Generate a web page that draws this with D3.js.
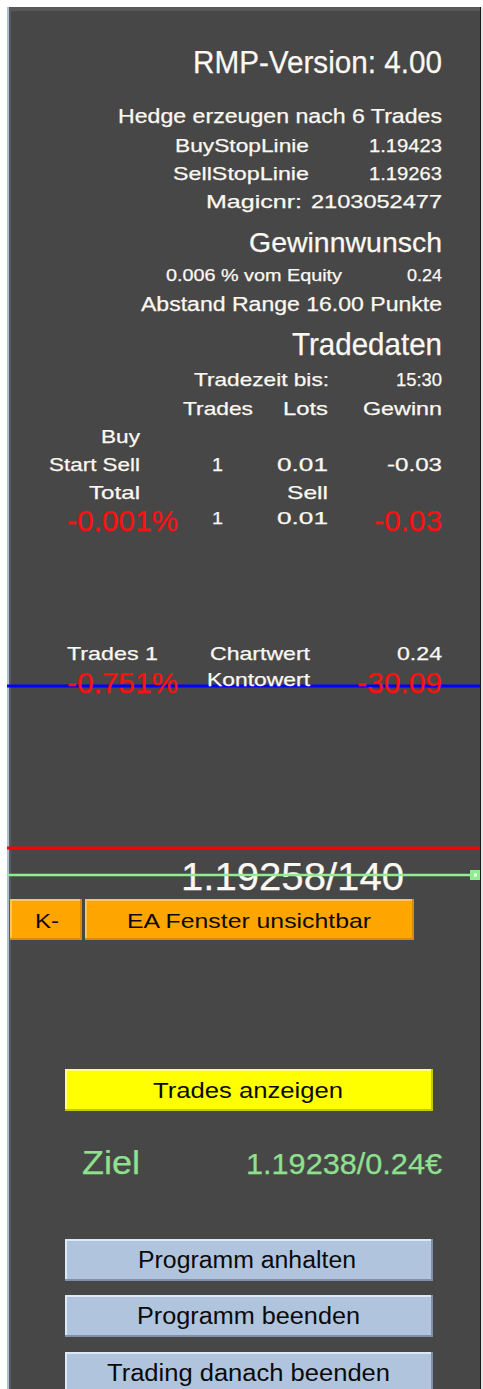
<!DOCTYPE html>
<html><head><meta charset="utf-8">
<script src="https://cdn.jsdelivr.net/npm/d3@7"></script>
<style>html,body{margin:0;padding:0;background:#fff;overflow:hidden}svg{display:block}</style>
</head><body>
<script>
// ---------- data ----------
const versionText = "RMP-Version: 4.00";
const hedgeText = "Hedge erzeugen nach 6 Trades";
const stopLineLabels = ["BuyStopLinie", "SellStopLinie"];
const stopLineValues = ["1.19423", "1.19263"];
const magicLabel = "Magicnr:";
const magicNumber = "2103052477";
const profitHeader = "Gewinnwunsch";
const profitLabel = "0.006 % vom Equity";
const profitValue = "0.24";
const rangeText = "Abstand Range 16.00 Punkte";
const tradeHeader = "Tradedaten";
const tradeTimeLabel = "Tradezeit bis:";
const tradeTimeValue = "15:30";
const tradeColumns = ["Trades", "Lots", "Gewinn"];
const tradeRowLabels = ["Buy", "Start Sell", "Total"];
const startSellValues = ["1", "0.01", "-0.03"];
const totalSubLabel = "Sell";
const totalPercent = "-0.001%";
const totalValues = ["1", "0.01"];
const totalProfit = "-0.03";
const summaryLabels = ["Trades 1", "Chartwert", "Kontowert"];
const chartValue = "0.24";
const accountPercent = "-0.751%";
const accountValue = "-30.09";
const priceLineNames = ["blue", "red", "green"];
const priceLinePrices = [1.19293, 1.19263, 1.19258];
const currentPriceText = "1.19258/140";
const orangeButtons = ["K-", "EA Fenster unsichtbar"];
const yellowButton = "Trades anzeigen";
const targetLabel = "Ziel";
const targetValue = "1.19238/0.24€";
const blueButtons = ["Programm anhalten", "Programm beenden", "Trading danach beenden"];

// ---------- drawing ----------
const W = 483, H = 1389;
const FONT = "'Liberation Sans', Arial, sans-serif";
const svg = d3.select("body").append("svg").attr("width", W).attr("height", H);

// frame
svg.append("rect").attr("x", 0).attr("y", 0).attr("width", W).attr("height", H).attr("fill", "#ffffff");
svg.append("rect").attr("x", 7).attr("y", 7).attr("width", 474).attr("height", H - 7).attr("fill", "#595959");
svg.append("rect").attr("x", 11).attr("y", 11).attr("width", 469).attr("height", H - 11).attr("fill", "#474747");
svg.append("rect").attr("x", 7).attr("y", 7).attr("width", 2).attr("height", H - 7).attr("fill", "#a9bfdc");
svg.append("rect").attr("x", 480).attr("y", 7).attr("width", 1).attr("height", H - 7).attr("fill", "#1a1a1a");
svg.append("rect").attr("x", 481).attr("y", 7).attr("width", 2).attr("height", H - 7).attr("fill", "#e6e6e6");

const gLines = svg.append("g");
const gText = svg.append("g").attr("font-family", FONT);
const gTop = svg.append("g");

function label(g, str, x0, x1, baseline, size, color) {
  return g.append("text")
    .attr("x", x0).attr("y", baseline)
    .attr("font-size", size).attr("fill", color)
    .attr("stroke", color).attr("stroke-width", 0.25)
    .attr("textLength", x1 - x0).attr("lengthAdjust", "spacingAndGlyphs")
    .text(str);
}
const WHITE = "#fbf8f2", RED = "#ff1010", GREEN = "#8fe08f";

// price lines via a linear price scale
const yPrice = d3.scaleLinear().domain([1.19258, 1.19263]).range([875, 848]);
const lineColor = {blue: "#0000ff", red: "#ff0000", green: "#90ee90"};
const lineWidth = {blue: 3, red: 3, green: 2.5};
priceLineNames.forEach((n, i) => {
  const g = n === "green" ? gTop : gLines;
  g.append("line").attr("x1", 7).attr("x2", 480)
    .attr("y1", yPrice(priceLinePrices[i])).attr("y2", yPrice(priceLinePrices[i]))
    .attr("stroke", lineColor[n]).attr("stroke-width", lineWidth[n]);
});
// green line end marker
const gy = yPrice(priceLinePrices[2]);
gTop.append("rect").attr("x", 470).attr("y", gy - 5).attr("width", 10).attr("height", 10).attr("fill", "#90ee90");
gTop.append("rect").attr("x", 474).attr("y", gy - 1.5).attr("width", 3).attr("height", 3).attr("fill", "#f0fff0");

// header texts
label(gText, versionText, 193, 442, 73, 31, WHITE);
label(gText, hedgeText, 118, 442, 123, 19.5, WHITE);
label(gText, stopLineLabels[0], 175, 309, 151.5, 19, WHITE);
label(gText, stopLineValues[0], 369, 442, 151.5, 18, WHITE);
label(gText, stopLineLabels[1], 173, 309, 180, 19, WHITE);
label(gText, stopLineValues[1], 369, 442, 180, 18, WHITE);
label(gText, magicLabel, 206, 302, 208, 19, WHITE);
label(gText, magicNumber, 311, 442, 208, 19, WHITE);
label(gText, profitHeader, 249, 442, 251.5, 28, WHITE);
label(gText, profitLabel, 166, 342, 281, 17, WHITE);
label(gText, profitValue, 407, 442, 281, 17, WHITE);
label(gText, rangeText, 141, 442, 310.5, 20, WHITE);
label(gText, tradeHeader, 292, 442, 355, 30.5, WHITE);
label(gText, tradeTimeLabel, 194, 329, 386, 19, WHITE);
label(gText, tradeTimeValue, 396, 442, 386, 19, WHITE);

// trade table
const colX = [[183, 253], [283, 328], [363, 442]];
tradeColumns.forEach((c, i) => label(gText, c, colX[i][0], colX[i][1], 415, 19, WHITE));
label(gText, tradeRowLabels[0], 101, 140, 443, 19, WHITE);
label(gText, tradeRowLabels[1], 49, 140, 471, 19, WHITE);
label(gText, tradeRowLabels[2], 89, 140, 499, 19, WHITE);
const valX = [[212, 223], [277, 328], [387, 442]];
startSellValues.forEach((v, i) => label(gText, v, valX[i][0], valX[i][1], 471, 19, WHITE));
label(gText, totalSubLabel, 287, 328, 499, 19, WHITE);
label(gText, totalPercent, 67, 178, 531, 29, RED);
totalValues.forEach((v, i) => label(gText, v, valX[i][0], valX[i][1], 524, 17, WHITE));
label(gText, totalProfit, 374, 442, 531, 29, RED);

// summary
label(gText, summaryLabels[0], 67, 158, 660, 19, WHITE);
label(gText, summaryLabels[1], 210, 310, 660, 19, WHITE);
label(gText, chartValue, 397, 442, 660, 19, WHITE);
label(gText, accountPercent, 67, 178, 693, 29, RED);
label(gText, summaryLabels[2], 207, 310, 686, 19, WHITE);
label(gText, accountValue, 357, 442, 693, 29, RED);

// current price (under green line)
label(gText, currentPriceText, 181, 404, 890, 38, WHITE);

// buttons
function button(x, y, w, h, fill, light, dark, text, tx0, tx1, tb, ts) {
  const g = svg.append("g");
  g.append("rect").attr("x", x).attr("y", y).attr("width", w).attr("height", h).attr("fill", fill);
  g.append("rect").attr("x", x).attr("y", y).attr("width", w).attr("height", 2).attr("fill", light);
  g.append("rect").attr("x", x).attr("y", y).attr("width", 2).attr("height", h).attr("fill", light);
  g.append("rect").attr("x", x).attr("y", y + h - 2).attr("width", w).attr("height", 2).attr("fill", dark);
  g.append("rect").attr("x", x + w - 2).attr("y", y).attr("width", 2).attr("height", h).attr("fill", dark);
  g.append("text").attr("x", tx0).attr("y", tb).attr("font-family", FONT)
    .attr("font-size", ts).attr("fill", "#0a0a0a")
    .attr("textLength", tx1 - tx0).attr("lengthAdjust", "spacingAndGlyphs").text(text);
}
button(10, 899, 72, 41, "#ffa500", "#ffc452", "#d88c00", orangeButtons[0], 35, 59, 928, 21);
button(85, 899, 329, 41, "#ffa500", "#ffc452", "#d88c00", orangeButtons[1], 127, 371, 928, 21);
button(65, 1069, 368, 42, "#ffff00", "#ffff80", "#c8c800", yellowButton, 153, 343, 1098, 22);
label(gText, targetLabel, 82, 140, 1174, 34, GREEN);
label(gText, targetValue, 246, 442, 1174, 30, GREEN);
const blueTextX = [[138, 356], [137, 360], [107, 390]];
const blueTop = [1239, 1295, 1352];
blueButtons.forEach((b, i) =>
  button(65, blueTop[i], 368, 42, "#b0c4de", "#dde8f7", "#7f90a8", b,
         blueTextX[i][0], blueTextX[i][1], blueTop[i] + 29, 23));
</script>
</body></html>
